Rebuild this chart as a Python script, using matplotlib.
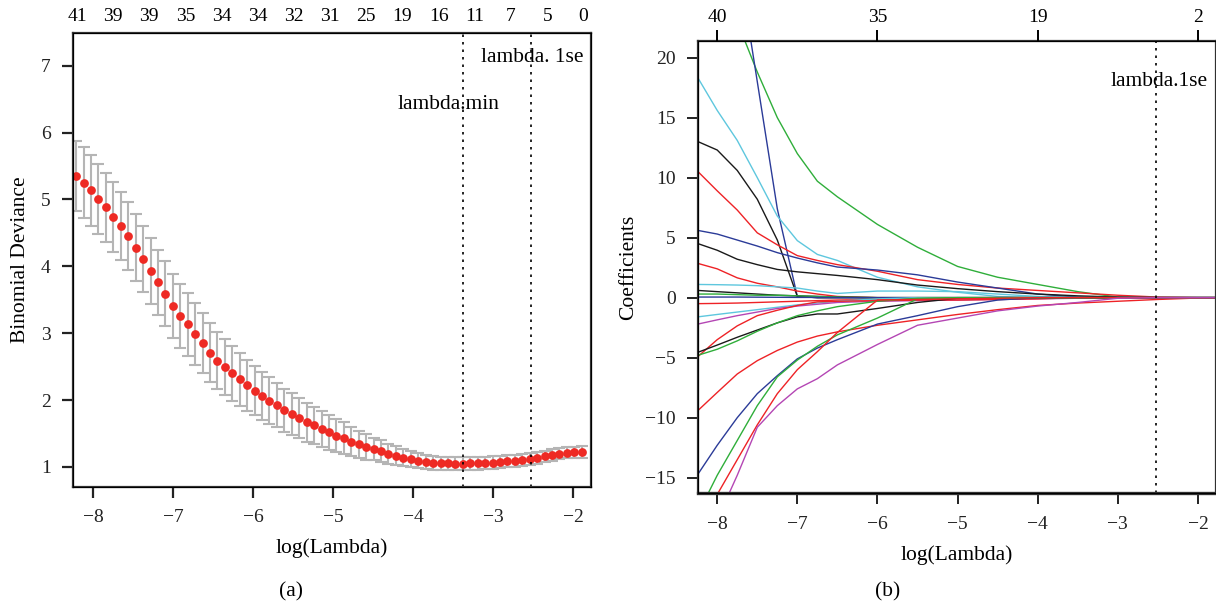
import numpy as np
import matplotlib
matplotlib.use("Agg")
import matplotlib.pyplot as plt

plt.rcParams['font.family'] = ['Liberation Serif', 'DejaVu Serif']
plt.rcParams['font.size'] = 14

# ---- panel (a): cross-validation curve ----
cv_mean = [5.35, 5.25, 5.14, 5.01, 4.88, 4.74, 4.60, 4.45, 4.28, 4.11,
           3.93, 3.76, 3.59, 3.41, 3.26, 3.13, 2.99, 2.85, 2.71, 2.59,
           2.49, 2.40, 2.31, 2.22, 2.14, 2.06, 1.99, 1.92, 1.85, 1.79,
           1.73, 1.67, 1.62, 1.57, 1.52, 1.47, 1.43, 1.38, 1.34, 1.30,
           1.27, 1.24, 1.20, 1.17, 1.14, 1.115, 1.094, 1.075, 1.064, 1.055,
           1.055, 1.05, 1.05, 1.055, 1.055, 1.06, 1.065, 1.075, 1.085, 1.095,
           1.105, 1.12, 1.14, 1.16, 1.18, 1.20, 1.215, 1.22, 1.225]
cv_se = [0.53, 0.53, 0.53, 0.52, 0.52, 0.52, 0.51, 0.51, 0.50, 0.50,
         0.50, 0.49, 0.49, 0.48, 0.48, 0.47, 0.46, 0.45, 0.44, 0.43,
         0.42, 0.41, 0.40, 0.38, 0.37, 0.36, 0.35, 0.33, 0.32, 0.31,
         0.30, 0.29, 0.28, 0.27, 0.26, 0.25, 0.24, 0.22, 0.20, 0.19,
         0.17, 0.16, 0.15, 0.14, 0.13, 0.12, 0.115, 0.11, 0.105, 0.10,
         0.10, 0.10, 0.10, 0.10, 0.095, 0.095, 0.095, 0.09, 0.09, 0.09,
         0.09, 0.09, 0.09, 0.085, 0.085, 0.085, 0.085, 0.085, 0.085]
log_lam_first, log_lam_last = -8.21, -1.89
top_df_a = ['41', '39', '39', '35', '34', '34', '32', '31', '25', '19', '16', '11', '7', '5', '0']
lambda_min = -3.375
lambda_1se = -2.53

# ---- panel (b): coefficient paths ----
path_x = [-8.24, -8.0, -7.75, -7.5, -7.25, -7.0, -6.75, -6.5, -6.0, -5.5,
          -5.0, -4.5, -4.0, -3.5, -3.0, -2.5, -2.0, -1.78]
paths = [
    ('green',   [32, 27.5, 23, 18.8, 15.0, 12.0, 9.7, 8.4, 6.1, 4.2, 2.6, 1.7, 1.1, 0.5, 0.05, 0, 0, 0]),
    ('blue',    [49, 39, 28.6, 18.0, 7.4, 0.1, 0, 0, 0, 0, 0, 0, 0, 0, 0, 0, 0, 0]),
    ('cyan',    [18.3, 15.6, 13.1, 10.0, 6.8, 4.75, 3.6, 3.1, 1.7, 0.9, 0.45, 0.1, 0, 0, 0, 0, 0, 0]),
    ('black',   [13.0, 12.3, 10.6, 8.2, 4.8, 0.1, 0, 0, 0, 0, 0, 0, 0, 0, 0, 0, 0, 0]),
    ('red',     [10.5, 8.9, 7.3, 5.4, 4.4, 3.5, 3.1, 2.75, 2.2, 1.5, 1.1, 0.8, 0.6, 0.4, 0.2, 0.05, 0, 0]),
    ('blue',    [5.6, 5.3, 4.8, 4.3, 3.75, 3.3, 2.9, 2.55, 2.3, 1.9, 1.3, 0.8, 0.3, 0.05, 0, 0, 0, 0]),
    ('black',   [4.5, 3.95, 3.2, 2.75, 2.35, 2.15, 2.0, 1.85, 1.5, 1.05, 0.75, 0.5, 0.3, 0.15, 0.05, 0, 0, 0]),
    ('red',     [2.85, 2.4, 1.65, 1.2, 0.9, 0.55, 0.3, 0.1, 0, 0, 0, 0, 0, 0, 0, 0, 0, 0]),
    ('cyan',    [1.1, 1.08, 1.05, 1.0, 0.9, 0.8, 0.55, 0.35, 0.55, 0.55, 0.5, 0.3, 0.1, 0, 0, 0, 0, 0]),
    ('black',   [0.6, 0.5, 0.4, 0.3, 0.2, 0.15, 0.1, 0.05, 0, 0, 0, 0, 0, 0, 0, 0, 0, 0]),
    ('green',   [0.3, 0.3, 0.25, 0.2, 0.2, 0.15, 0.1, 0.05, 0, 0, 0, 0, 0, 0, 0, 0, 0, 0]),
    ('blue',    [0.05, 0.05, 0.05, 0.04, 0.03, 0.02, 0.02, 0.01, 0, 0, 0, 0, 0, 0, 0, 0, 0, 0]),
    ('red',     [-0.5, -0.48, -0.45, -0.4, -0.35, -0.3, -0.25, -0.2, -0.15, -0.1, -0.05, 0, 0, 0, 0, 0, 0, 0]),
    ('cyan',    [-1.6, -1.4, -1.2, -1.0, -0.8, -0.6, -0.45, -0.3, -0.1, 0, 0, 0, 0, 0, 0, 0, 0, 0]),
    ('magenta', [-2.2, -1.85, -1.5, -1.2, -0.9, -0.7, -0.55, -0.4, -0.3, -0.25, -0.2, -0.15, -0.1, -0.05, 0, 0, 0, 0]),
    ('red',     [-4.9, -3.5, -2.35, -1.5, -1.05, -0.65, -0.35, -0.3, -0.25, -0.2, -0.2, -0.15, -0.1, 0, 0, 0, 0, 0]),
    ('black',   [-4.55, -3.95, -3.3, -2.7, -2.1, -1.6, -1.36, -1.36, -0.9, -0.4, -0.05, 0, 0, 0, 0, 0, 0, 0]),
    ('green',   [-4.8, -4.3, -3.6, -2.8, -2.1, -1.5, -1.1, -0.75, -0.3, -0.05, 0, 0, 0, 0, 0, 0, 0, 0]),
    ('red',     [-9.4, -7.9, -6.36, -5.25, -4.4, -3.7, -3.2, -2.85, -2.3, -1.85, -1.4, -1.0, -0.65, -0.45, -0.3, -0.15, -0.03, 0]),
    ('blue',    [-14.7, -12.3, -10.0, -8.0, -6.5, -5.1, -4.2, -3.5, -2.2, -1.5, -0.75, -0.2, 0, 0, 0, 0, 0, 0]),
    ('green',   [-18, -14.8, -11.9, -9.0, -6.6, -5.2, -4.05, -3.1, -1.7, -0.1, 0, 0, 0, 0, 0, 0, 0, 0]),
    ('red',     [-19.5, -16.4, -13.5, -10.6, -8.0, -6.0, -4.5, -2.9, -0.2, -0.15, -0.1, -0.05, 0, 0, 0, 0, 0, 0]),
    ('magenta', [-22, -18.5, -14.8, -10.8, -9.0, -7.6, -6.75, -5.6, -3.9, -2.3, -1.7, -1.1, -0.7, -0.4, -0.05, 0, 0, 0]),
]
top_df_b = ['40', '35', '19', '2']
top_ticks_b = [-8, -6, -4, -2]

colors = {'black': '#1a1a1a', 'red': '#ee2226', 'green': '#2fae3a',
          'blue': '#2b3b98', 'cyan': '#5ec7de', 'magenta': '#b446b4'}
frame = '#333333'
big = 15.5   # axis labels and annotations

fig = plt.figure(figsize=(12.16, 6.09), dpi=100)

# panel (a)
ax = fig.add_axes([0.060, 0.2003, 0.426, 0.7457])
log_lam = np.linspace(log_lam_first, log_lam_last, len(cv_mean))
ax.errorbar(log_lam, cv_mean, yerr=cv_se, fmt='none', ecolor='#b5b5b5',
            elinewidth=1.5, capsize=4, capthick=1.5, zorder=1)
ax.plot(log_lam, cv_mean, 'o', color='#ee2a24', ms=6.3, mec='none', zorder=2)
ax.axvline(lambda_min, color='black', ls=(0, (1.5, 3)), lw=1.2)
ax.axvline(lambda_1se, color='black', ls=(0, (1.5, 3)), lw=1.2)
ax.text(-3.15, 7.12, 'lambda. 1se', va='center', ha='left', fontsize=big)
ax.text(-4.19, 6.42, 'lambda.min', va='center', ha='left', fontsize=big)
ax.set_xlim(-8.25, -1.775)
ax.set_ylim(0.70, 7.49)
ax.set_xticks(range(-8, -1))
ax.set_yticks(range(1, 8))
ax.set_xlabel('log(Lambda)', labelpad=9, fontsize=big)
ax.set_ylabel('Binomial Deviance', labelpad=8, fontsize=big)
for s in ax.spines.values():
    s.set_color(frame)
    s.set_linewidth(1.6)
ax.tick_params(colors='#222222', direction='out', length=8, width=1.6, pad=8)
axt = ax.twiny()
axt.set_xlim(ax.get_xlim())
axt.set_xticks(np.linspace(-8.2, -1.87, len(top_df_a)))
axt.set_xticklabels(top_df_a)
axt.tick_params(length=0, pad=6)

# panel (b)
bx = fig.add_axes([0.574, 0.190, 0.426, 0.743])
for c, v in paths:
    bx.plot(path_x, v, color=colors[c], lw=1.0)
bx.axvline(lambda_1se, color='black', ls=(0, (1.5, 3)), lw=1.2)
bx.text(-3.09, 18.0, 'lambda.1se', va='center', ha='left', fontsize=big)
bx.set_xlim(-8.24, -1.775)
bx.set_ylim(-16.3, 21.4)
bx.set_xticks(range(-8, -1))
bx.set_yticks(range(-15, 21, 5))
bx.set_xlabel('log(Lambda)', labelpad=9, fontsize=big)
bx.set_ylabel('Coefficients', labelpad=5, fontsize=big)
for s in bx.spines.values():
    s.set_color(frame)
    s.set_linewidth(1.6)
bx.spines['bottom'].set_linewidth(2.4)
bx.tick_params(colors='#222222', direction='out', length=8, width=1.4, pad=8)
bxt = bx.twiny()
bxt.set_xlim(bx.get_xlim())
bxt.set_xticks(top_ticks_b)
bxt.set_xticklabels(top_df_b)
bxt.tick_params(direction='out', length=8, width=1.4, pad=3)

fig.text(0.2393, 0.028, '(a)', ha='center', va='center', fontsize=big)
fig.text(0.7303, 0.028, '(b)', ha='center', va='center', fontsize=big)

fig.savefig('out.png', dpi=100)
